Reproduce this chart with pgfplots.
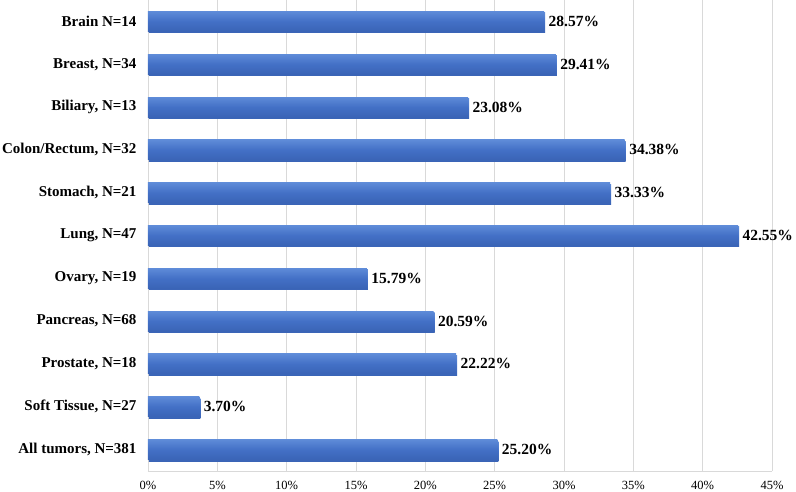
\documentclass[border=0pt]{standalone}
\usepackage{pgfplots}
\pgfplotsset{compat=1.18}
\usepackage{fontspec}
\setmainfont{Liberation Serif}
\definecolor{bartop}{HTML}{5E8BD8}
\definecolor{barmid}{HTML}{4370C6}
\definecolor{barbot}{HTML}{3A64B6}
\definecolor{gridc}{HTML}{D9D9D9}
\pgfplotsset{
  onebar/.style={draw=none, top color=bartop, bottom color=barbot, middle color=barmid,
    preaction={fill=black!30, transform canvas={xshift=1bp,yshift=-1.5bp}}},
}
\begin{document}
\begin{tikzpicture}
\begin{axis}[
  at={(0,0)}, anchor=south west,
  scale only axis,
  width=624bp, height=471bp,
  xbar,
  bar width=20bp,
  bar shift=0pt,
  xmin=0, xmax=45,
  ymin=-0.5, ymax=10.5,
  xtick={0,5,...,45},
  xticklabel={\pgfmathprintnumber{\tick}\%},
  /pgf/number format/assume math mode=true,
  ytick={0,...,10},
  yticklabels={All tumors{,} N=381, Soft Tissue{,} N=27, Prostate{,} N=18, Pancreas{,} N=68, Ovary{,} N=19, Lung{,} N=47, Stomach{,} N=21, Colon/Rectum{,} N=32, Biliary{,} N=13, {Breast, N=34}, Brain N=14},
  yticklabel style={font=\fontsize{15bp}{17bp}\selectfont\bfseries, xshift=-8bp},
  xticklabel style={font=\fontsize{12.5bp}{14bp}\selectfont, yshift=-7bp},
  major tick length=0pt,
  xmajorgrids,
  grid style={draw=gridc, line width=0.7pt},
  axis x line*=bottom, axis y line*=left,
  x axis line style={draw=gridc, line width=0.7pt, -},
  y axis line style={draw=none},
  nodes near coords={\pgfmathprintnumber[fixed,fixed zerofill,precision=2]{\pgfplotspointmeta}\%},
  nodes near coords style={font=\fontsize{15.5bp}{17bp}\selectfont\bfseries, anchor=west, xshift=1bp, text=black},
]
\addplot[onebar] coordinates {(25.20,0)};
\addplot[onebar] coordinates {(3.70,1)};
\addplot[onebar] coordinates {(22.22,2)};
\addplot[onebar] coordinates {(20.59,3)};
\addplot[onebar] coordinates {(15.79,4)};
\addplot[onebar] coordinates {(42.55,5)};
\addplot[onebar] coordinates {(33.33,6)};
\addplot[onebar] coordinates {(34.38,7)};
\addplot[onebar] coordinates {(23.08,8)};
\addplot[onebar] coordinates {(29.41,9)};
\addplot[onebar] coordinates {(28.57,10)};
\end{axis}
\pgfresetboundingbox
\path (-148bp,-21bp) rectangle (648bp,471bp);
\end{tikzpicture}
\end{document}
